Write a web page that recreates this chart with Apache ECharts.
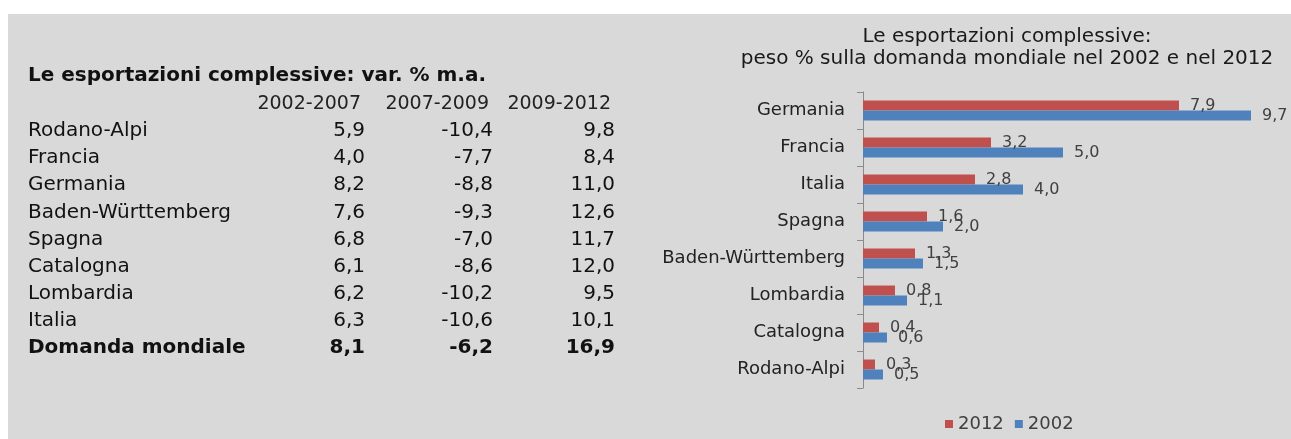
<!DOCTYPE html>
<html>
<head>
<meta charset="utf-8">
<script src="https://cdn.jsdelivr.net/npm/echarts@6/dist/echarts.min.js"></script>
<style>
  html, body { margin: 0; padding: 0; background: #fff; }
  #main { width: 1291px; height: 439px; }
</style>
</head>
<body>
<div id="main"></div>
<script>
// tabella a sinistra
const tableTitle = 'Le esportazioni complessive: var. % m.a.';
const tableHeaders = ['2002-2007', '2007-2009', '2009-2012'];
const tableRows = ['Rodano-Alpi', 'Francia', 'Germania', 'Baden-Württemberg', 'Spagna',
    'Catalogna', 'Lombardia', 'Italia', 'Domanda mondiale'];
const var0207 = [5.9, 4.0, 8.2, 7.6, 6.8, 6.1, 6.2, 6.3, 8.1];
const var0709 = [-10.4, -7.7, -8.8, -9.3, -7.0, -8.6, -10.2, -10.6, -6.2];
const var0912 = [9.8, 8.4, 11.0, 12.6, 11.7, 12.0, 9.5, 10.1, 16.9];

// grafico a destra
const chartTitle = 'Le esportazioni complessive:\npeso % sulla domanda mondiale nel 2002 e nel 2012';
const categories = ['Germania', 'Francia', 'Italia', 'Spagna', 'Baden-Württemberg',
    'Lombardia', 'Catalogna', 'Rodano-Alpi'];
const peso2012 = [7.9, 3.2, 2.8, 1.6, 1.3, 0.8, 0.4, 0.3];
const peso2002 = [9.7, 5.0, 4.0, 2.0, 1.5, 1.1, 0.6, 0.5];

const FONT = 'DejaVu Sans';
const fmt = v => v.toFixed(1).replace('.', ',');

const chart = echarts.init(document.getElementById('main'));

/*
* tabella disegnata con elementi graphic
*/
const colRight = [361, 489, 611];
const rowY0 = 131, rowStep = 27.1;
const tableEls = [];
tableEls.push({
    type: 'text', x: 28, y: 76,
    style: { text: tableTitle, font: 'bold 20px "' + FONT + '"', fill: '#111', verticalAlign: 'middle' }
});
tableHeaders.forEach((h, i) => {
    tableEls.push({
        type: 'text', x: colRight[i], y: 104,
        style: { text: h, font: '19px "' + FONT + '"', fill: '#222', align: 'right', verticalAlign: 'middle' }
    });
});
tableRows.forEach((name, r) => {
    const bold = r === tableRows.length - 1;
    const font = (bold ? 'bold ' : '') + '20px "' + FONT + '"';
    const y = rowY0 + rowStep * r;
    tableEls.push({
        type: 'text', x: 28, y: y,
        style: { text: name, font: font, fill: '#111', verticalAlign: 'middle' }
    });
    [var0207, var0709, var0912].forEach((col, c) => {
        tableEls.push({
            type: 'text', x: colRight[c] + 4, y: y,
            style: { text: fmt(col[r]), font: font, fill: '#111', align: 'right', verticalAlign: 'middle' }
        });
    });
});

chart.setOption({
    backgroundColor: '#fff',
    animation: false,
    textStyle: { fontFamily: FONT },
    graphic: [
        { type: 'rect', z: -10, shape: { x: 8, y: 14, width: 1283, height: 425 }, style: { fill: '#d9d9d9' } },
        {
            type: 'text', x: 1007, y: 48,
            style: {
                text: chartTitle, font: '20px "' + FONT + '"', fill: '#1a1a1a',
                align: 'center', verticalAlign: 'middle', lineHeight: 22
            }
        },
        ...tableEls
    ],
    legend: {
        left: 940, top: 410,
        icon: 'rect', itemWidth: 8, itemHeight: 8, itemGap: 11,
        textStyle: { fontSize: 18, color: '#404040', fontFamily: FONT },
        data: ['2012', '2002']
    },
    grid: { left: 863, top: 92, width: 400, height: 296 },
    xAxis: {
        type: 'value', min: 0, max: 10, show: false
    },
    yAxis: {
        type: 'category', inverse: true, data: categories,
        axisLine: { show: true, lineStyle: { color: '#8a8a8a' } },
        axisTick: { show: true, length: 6, lineStyle: { color: '#8a8a8a' } },
        axisLabel: { margin: 18, fontSize: 18, color: '#222', fontFamily: FONT }
    },
    series: [
        {
            name: '2012', type: 'bar', data: peso2012, barWidth: 10, barGap: '0%',
            itemStyle: { color: '#c0504d' },
            label: { show: true, position: 'right', distance: 11, fontSize: 16, color: '#404040', formatter: p => fmt(p.value) }
        },
        {
            name: '2002', type: 'bar', data: peso2002, barWidth: 10,
            itemStyle: { color: '#4f81bd' },
            label: { show: true, position: 'right', distance: 11, fontSize: 16, color: '#404040', formatter: p => fmt(p.value) }
        }
    ]
});
</script>
</body>
</html>
